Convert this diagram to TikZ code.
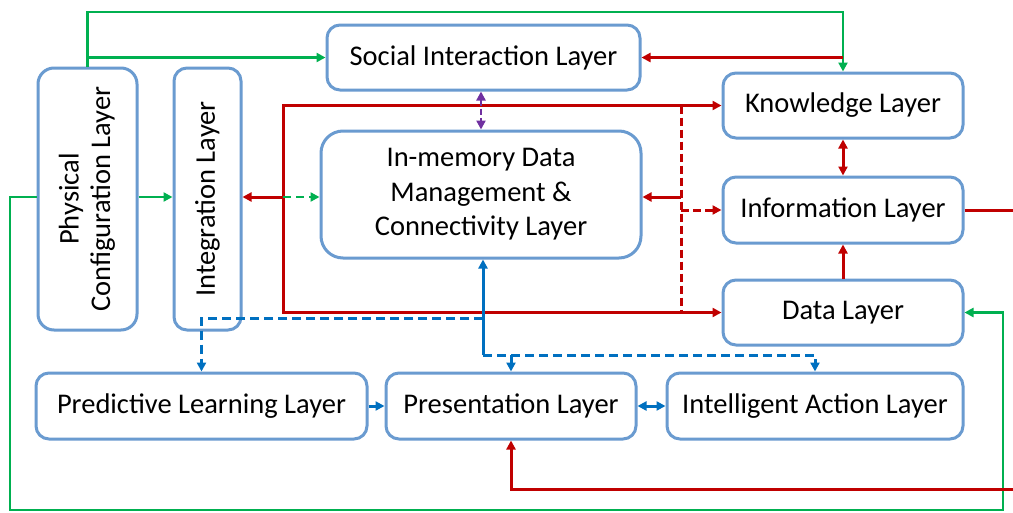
\documentclass[tikz,border=0pt]{standalone}
\usepackage{fontspec}
\setmainfont{Carlito}
\usetikzlibrary{arrows.meta,calc}
\definecolor{boxblue}{HTML}{6A9BD0}
\definecolor{lred}{HTML}{C00000}
\definecolor{lgreen}{HTML}{00B050}
\definecolor{lblue}{HTML}{0070C0}
\definecolor{lpurple}{HTML}{7030A0}
\tikzset{
  layer/.style={draw=boxblue, line width=3pt, rounded corners=13pt, fill=white,
    inner sep=0pt, align=center, font=\fontsize{28.5}{34.5}\selectfont},
  tip/.style={-{Triangle[length=9pt,width=9pt]}},
  dtip/.style={{Triangle[length=9pt,width=9pt]}-{Triangle[length=9pt,width=9pt]}},
  gline/.style={draw=lgreen, line width=2.8pt},
  rline/.style={draw=lred, line width=3pt},
  bline/.style={draw=lblue, line width=3pt},
  bdash/.style={draw=lblue, line width=3pt, dash pattern=on 9pt off 5pt},
  rdash/.style={draw=lred, line width=3pt, dash pattern=on 8pt off 4pt},
  gdash/.style={draw=lgreen, line width=2.8pt, dash pattern=on 8pt off 5pt},
  pline/.style={draw=lpurple, line width=2.8pt, dash pattern=on 6pt off 3pt},
}
\begin{document}
\begin{tikzpicture}[x=1pt,y=-1pt]
\useasboundingbox (0,0) rectangle (1013,512);
\clip (0,0) rectangle (1013,512);
\fill[white] (0,0) rectangle (1013,512);

% layers
\node[layer, minimum width=99pt, minimum height=262pt, rounded corners=16pt] (phys) at (87.5,199)
  {\rotatebox{90}{\begin{tabular}{c}Physical\\[-3pt]Configuration Layer\end{tabular}}};
\node[layer, minimum width=67pt, minimum height=262pt] (integ) at (207.5,199)
  {\rotatebox{90}{Integration Layer}};
\node[layer, minimum width=313pt, minimum height=65pt] (soc) at (483.5,57.5) {Social Interaction Layer};
\node[layer, minimum width=320pt, minimum height=127pt, rounded corners=22pt] (mem) at (481,194.5)
  {In-memory Data\\Management \&\\Connectivity Layer};
\node[layer, minimum width=240pt, minimum height=65pt] (know) at (843,105.5) {Knowledge Layer};
\node[layer, minimum width=240pt, minimum height=66pt] (info) at (843,210) {Information Layer};
\node[layer, minimum width=240pt, minimum height=65pt] (data) at (843,312.5) {Data Layer};
\node[layer, minimum width=331pt, minimum height=66pt] (pred) at (201.5,406) {Predictive Learning Layer};
\node[layer, minimum width=250pt, minimum height=66pt] (pres) at (511,406) {Presentation Layer};
\node[layer, minimum width=296pt, minimum height=66pt] (intel) at (815,406) {Intelligent Action Layer};

% junction points of the buses
\coordinate (jL) at (283,197);
\coordinate (jR) at (681,197);
\coordinate (bj) at (483,355);
\coordinate (bk) at (483,318);
\coordinate (gtop) at (843,12);
\coordinate (gl) at (10,510);
\coordinate (gr) at (1003,510);
\coordinate (rr) at (1030,489);

% green links
\draw[gline, tip] (phys.north) |- (gtop) -- (know.north);
\draw[gline, tip] (phys.north |- soc.west) -- (soc.west);
\draw[gline, tip] (phys.east |- jL) -- (integ.west |- jL);
\draw[gline, tip] (phys.west |- jL) -| (gl) -- (gr) |- (data.east);

% red links
\draw[rline, tip] (know.north |- soc.east) -- (soc.east);
\draw[rline, dtip] (know.south) -- (info.north);
\draw[rline, tip] (data.north) -- (info.south);
\draw[rline, dtip] (know.west) -| (jL) |- (data.west);
\draw[rline, tip] (jL) -- (integ.east |- jL);
\draw[gdash, tip] (jL) -- (mem.west |- jL);
\draw[rdash] (jR |- know.west) -- (jR |- data.west);
\draw[rline, tip] (jR) -- (mem.east |- jR);
\draw[rdash, tip] (jR |- info.west) -- (info.west);
\draw[rline, tip] (info.east) -| (rr) -| (pres.south);

% purple link
\draw[pline, dtip] (soc.south -| 481,0) -- (mem.north);

% blue links
\draw[bline, tip] (bj) -- (bj |- mem.south);
\draw[bdash, tip] (bj) -| (intel.north);
\draw[bline, tip] (pres.north |- bj) -- (pres.north);
\draw[bdash, tip] (bk) -| (pred.north);
\draw[bline, tip] (pred.east) -- (pres.west);
\draw[bline, dtip] (pres.east) -- (intel.west);
\end{tikzpicture}
\end{document}
